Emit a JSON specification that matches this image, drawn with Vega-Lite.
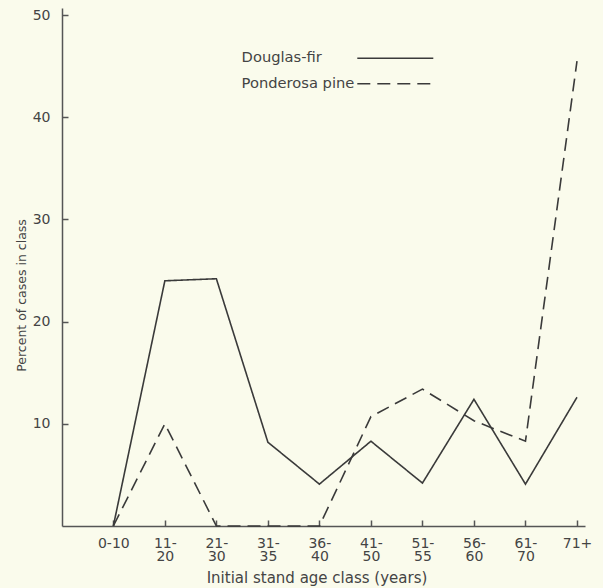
{
  "$schema": "https://vega.github.io/schema/vega-lite/v6.json",
  "width": 523,
  "height": 518,
  "autosize": {"type": "none"},
  "padding": {"left": 62, "top": 8, "right": 18, "bottom": 62},
  "background": "#fafbec",
  "config": {
    "view": {"stroke": null},
    "font": "DejaVu Sans",
    "axis": {
      "domainColor": "#555555",
      "domainWidth": 1.5,
      "tickColor": "#555555",
      "tickWidth": 1.5,
      "grid": false,
      "labelColor": "#444444",
      "titleColor": "#444444",
      "labelFontSize": 14,
      "titleFontSize": 14,
      "titleFontWeight": "normal"
    }
  },
  "data": {
    "values": [
      {"age": "0-10", "species": "Douglas-fir", "pct": 0},
      {"age": "11-20", "species": "Douglas-fir", "pct": 24.0},
      {"age": "21-30", "species": "Douglas-fir", "pct": 24.2},
      {"age": "31-35", "species": "Douglas-fir", "pct": 8.2},
      {"age": "36-40", "species": "Douglas-fir", "pct": 4.1},
      {"age": "41-50", "species": "Douglas-fir", "pct": 8.3},
      {"age": "51-55", "species": "Douglas-fir", "pct": 4.2},
      {"age": "56-60", "species": "Douglas-fir", "pct": 12.4},
      {"age": "61-70", "species": "Douglas-fir", "pct": 4.1},
      {"age": "71+", "species": "Douglas-fir", "pct": 12.6},
      {"age": "0-10", "species": "Ponderosa pine", "pct": 0},
      {"age": "11-20", "species": "Ponderosa pine", "pct": 10.0},
      {"age": "21-30", "species": "Ponderosa pine", "pct": 0},
      {"age": "31-35", "species": "Ponderosa pine", "pct": 0},
      {"age": "36-40", "species": "Ponderosa pine", "pct": 0},
      {"age": "41-50", "species": "Ponderosa pine", "pct": 10.7},
      {"age": "51-55", "species": "Ponderosa pine", "pct": 13.4},
      {"age": "56-60", "species": "Ponderosa pine", "pct": 10.3},
      {"age": "61-70", "species": "Ponderosa pine", "pct": 8.3},
      {"age": "71+", "species": "Ponderosa pine", "pct": 45.5}
    ]
  },
  "mark": {"type": "line", "color": "#3a3a3a", "strokeWidth": 1.6},
  "encoding": {
    "x": {
      "field": "age",
      "type": "ordinal",
      "sort": null,
      "scale": {"type": "point", "padding": 0.576, "align": 0.865},
      "axis": {
        "title": "Initial stand age class (years)",
        "titleFontSize": 15,
        "labelAngle": 0,
        "tickSize": -6,
        "labelPadding": 16,
        "labelLineHeight": 13.5,
        "labelExpr": "datum.value == '0-10' || datum.value == '71+' ? datum.value : [split(datum.value,'-')[0] + '-', split(datum.value,'-')[1]]",
        "titleX": 254.5,
        "titleY": 51,
        "titleBaseline": "middle",
        "titleAlign": "center"
      }
    },
    "y": {
      "field": "pct",
      "type": "quantitative",
      "scale": {"domain": [0, 50.7], "nice": false, "zero": false},
      "axis": {
        "title": "Percent of cases in class",
        "titleFontSize": 12.5,
        "values": [10, 20, 30, 40, 50],
        "tickSize": -6,
        "labelPadding": 18,
        "titleX": -41,
        "titleY": 287,
        "titleBaseline": "middle",
        "titleAlign": "center",
        "titleAngle": -90
      }
    },
    "detail": {"field": "species"},
    "strokeDash": {
      "field": "species",
      "type": "nominal",
      "scale": {"domain": ["Douglas-fir", "Ponderosa pine"], "range": [[1, 0], [13, 7]]},
      "legend": {
        "title": null,
        "orient": "none",
        "legendX": 179,
        "legendY": 39.3,
        "padding": 0,
        "symbolType": "M-3.8,0H3.8",
        "symbolSize": 400,
        "symbolStrokeColor": "#3a3a3a",
        "symbolFillColor": "transparent",
        "symbolStrokeWidth": 1.4,
        "symbolOffset": 143.3,
        "labelOffset": -164.7,
        "rowPadding": 7.4,
        "labelFontSize": 14.7,
        "labelColor": "#444444"
      }
    }
  }
}
